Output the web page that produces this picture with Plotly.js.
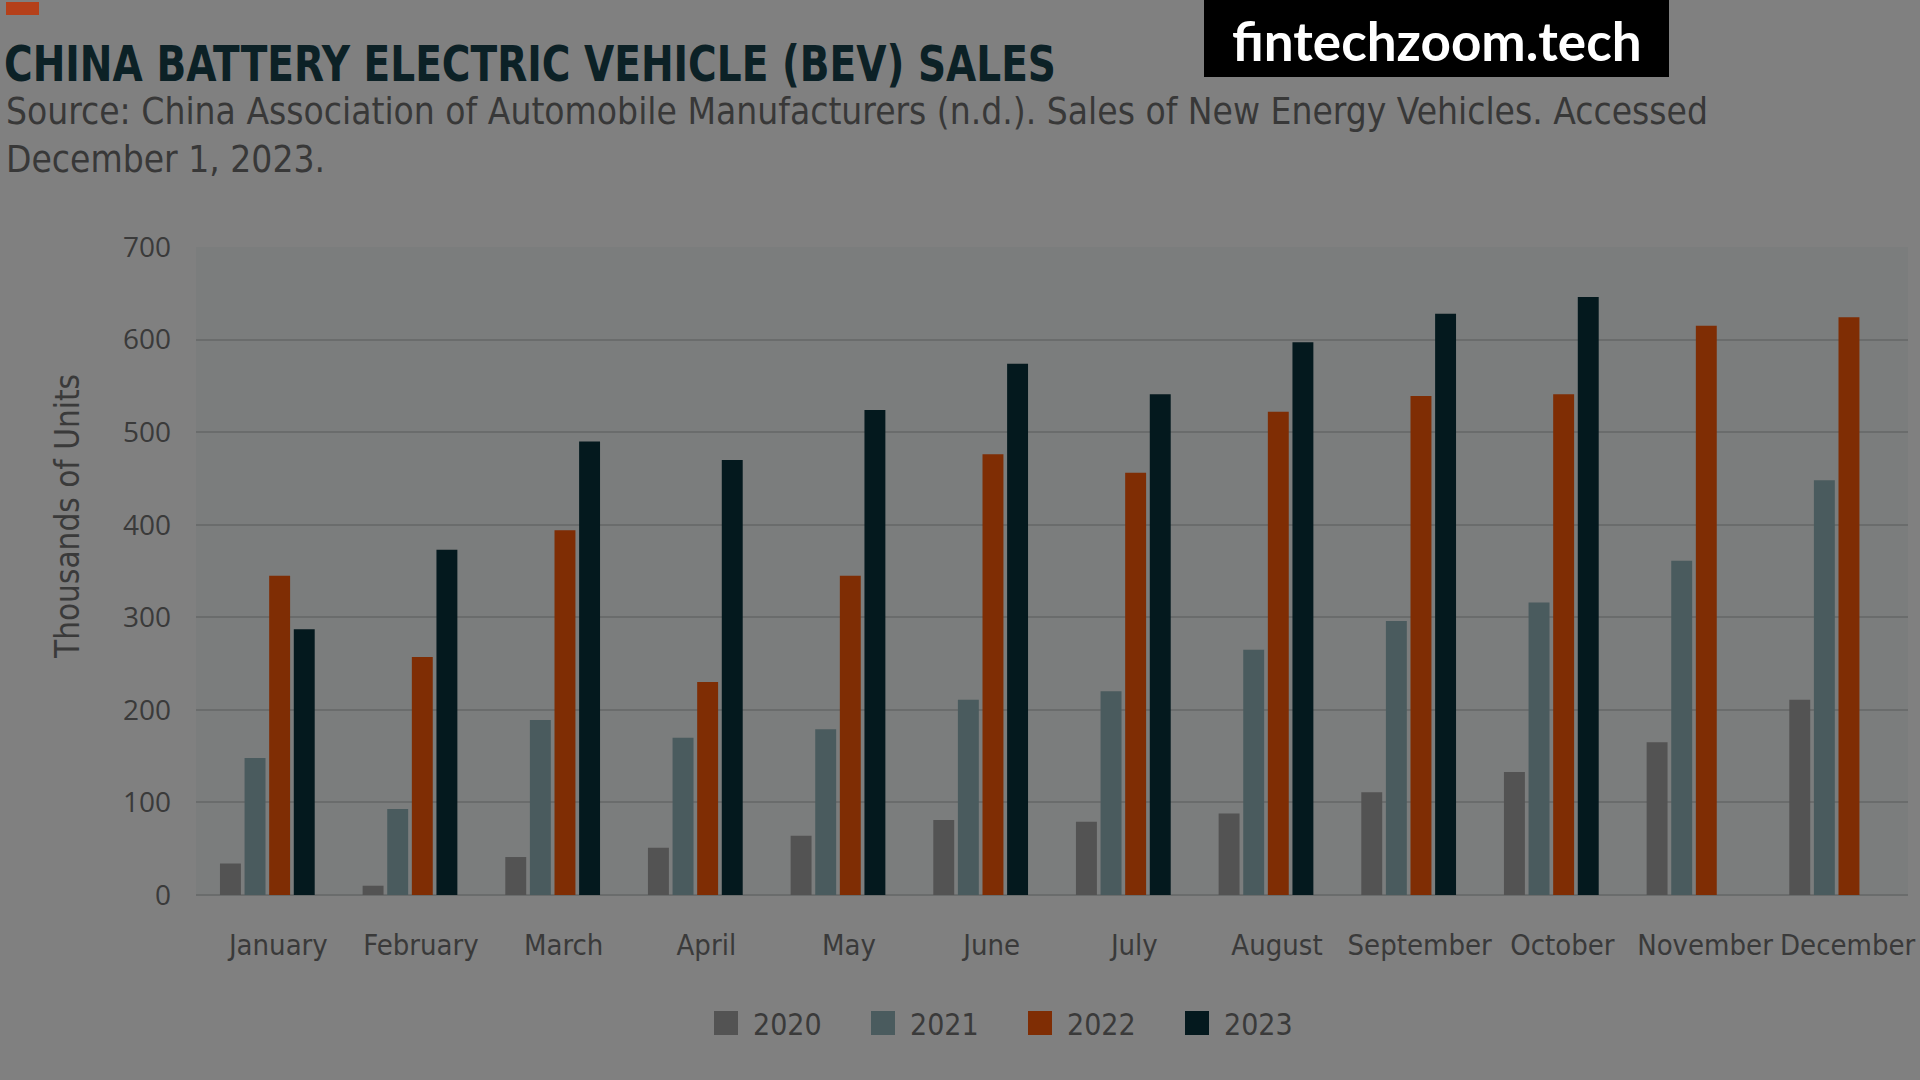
<!DOCTYPE html>
<html>
<head>
<meta charset="utf-8">
<script src="https://cdn.plot.ly/plotly-3.0.1.min.js"></script>
<style>
  html, body { margin: 0; padding: 0; background: #808080; }
  #chart { width: 1920px; height: 1080px; }
</style>
</head>
<body>
<div id="chart"></div>
<script>
const months = ["January", "February", "March", "April", "May", "June", "July", "August", "September", "October", "November", "December"];
const sales2020 = [34, 10, 41, 51, 64, 81, 79, 88, 111, 133, 165, 211];
const sales2021 = [148, 93, 189, 170, 179, 211, 220, 265, 296, 316, 361, 448];
const sales2022 = [345, 257, 394, 230, 345, 476, 456, 522, 539, 541, 615, 624];
const sales2023 = [287, 373, 490, 470, 524, 574, 541, 597, 628, 646, null, null];
const seriesNames = ["2020", "2021", "2022", "2023"];
const yTicks = [0, 100, 200, 300, 400, 500, 600, 700];

const colors = ["#535353", "#4a5b5e", "#7f2d04", "#04191e"];
const narrow = "DejaVu Sans Condensed, Liberation Sans Narrow, sans-serif";

const seriesData = [sales2020, sales2021, sales2022, sales2023];
const traces = seriesData.map((vals, i) => ({
  type: "bar",
  name: seriesNames[i],
  x: months,
  y: vals,
  marker: { color: colors[i], line: { width: 0 } },
  hoverinfo: "x+y+name"
}));

const W = 1920, H = 1080;
const L = 196, R = 12, T = 247, B = 185;
const pw = W - L - R, ph = H - T - B;
const px = v => (v - L) / pw;
const py = v => (H - B - v) / ph;

const layout = {
  width: W, height: H,
  paper_bgcolor: "#808080",
  plot_bgcolor: "#7b7d7d",
  margin: { l: L, r: R, t: T, b: B, pad: 0 },
  title: {
    text: "CHINA BATTERY ELECTRIC VEHICLE (BEV) SALES",
    font: { family: narrow, size: 50, weight: 700, color: "#0c2126" },
    x: 4 / W, xanchor: "left", xref: "container",
    y: 1 - 63 / H, yanchor: "middle", yref: "container"
  },
  barmode: "group",
  bargap: 0.31,
  bargroupgap: 0.15,
  xaxis: {
    type: "category",
    showgrid: false,
    showline: false,
    zeroline: false,
    ticks: "",
    tickangle: 0,
    ticklabelstandoff: 30,
    ticklabelshift: 11,
    tickfont: { family: narrow, size: 29, color: "#3a3a3a" }
  },
  yaxis: {
    range: [0, 700],
    tickvals: yTicks,
    ticktext: yTicks.map(String),
    showgrid: true,
    gridcolor: "#6a6c6c",
    gridwidth: 2,
    zeroline: true,
    zerolinecolor: "#6a6c6c",
    zerolinewidth: 2,
    showline: false,
    ticks: "",
    ticklabelstandoff: 24,
    tickfont: { family: "Open Sans, sans-serif", size: 28, color: "#3a3a3a" }
  },
  legend: {
    orientation: "h",
    x: px(713), xanchor: "left",
    y: py(1023), yanchor: "middle",
    font: { family: narrow, size: 30, color: "#3a3a3a" },
    entrywidth: 112,
    entrywidthmode: "pixels",
    bgcolor: "rgba(0,0,0,0)",
    borderwidth: 0,
    itemclick: false
  },
  shapes: [
    { type: "rect", xref: "paper", yref: "paper", x0: px(6), x1: px(39), y0: py(15), y1: py(2),
      fillcolor: "#b5401a", line: { width: 0 }, layer: "above" },
    { type: "rect", xref: "paper", yref: "paper", x0: px(1204), x1: px(1669), y0: py(77), y1: py(-5),
      fillcolor: "#000000", line: { width: 0 }, layer: "above" }
  ],
  annotations: [
    {
      text: "Source: China Association of Automobile Manufacturers (n.d.). Sales of New Energy Vehicles. Accessed<br>December 1, 2023.",
      xref: "paper", yref: "paper",
      x: px(4), xanchor: "left",
      y: py(135.5), yanchor: "middle",
      align: "left", showarrow: false,
      font: { family: narrow, size: 36.8, color: "#383838" }
    },
    {
      text: "Thousands of Units",
      xref: "paper", yref: "paper",
      x: px(67), xanchor: "center",
      y: py(517), yanchor: "middle",
      textangle: -90, showarrow: false,
      font: { family: narrow, size: 33, color: "#3a3a3a" }
    },
    {
      text: "<b>fintechzoom.tech</b>",
      xref: "paper", yref: "paper",
      x: px(1436.5), xanchor: "center",
      y: py(40), yanchor: "middle",
      showarrow: false,
      font: { family: "Lato, sans-serif", size: 53, color: "#ffffff" }
    }
  ]
};

Plotly.newPlot("chart", traces, layout, { displayModeBar: false }).then(gd => {
  // condensed title to match the reference's narrow typeface
  const t = gd.querySelector(".gtitle");
  if (t) {
    t.setAttribute("textLength", "1052");
    t.setAttribute("lengthAdjust", "spacingAndGlyphs");
  }
  // larger square legend swatches, as in the reference
  gd.querySelectorAll(".legend .legendpoints path").forEach(p => {
    p.setAttribute("d", "M5,12H-19V-12H5Z");
  });
});
</script>
</body>
</html>
